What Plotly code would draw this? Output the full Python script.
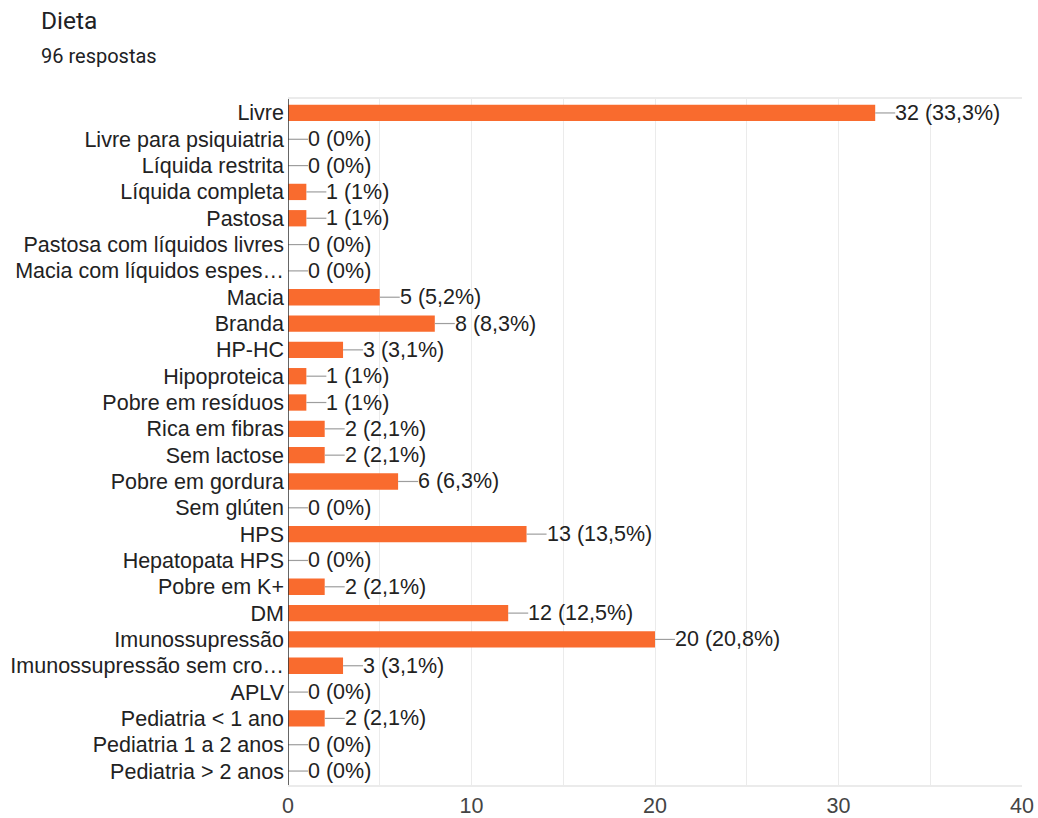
import plotly.graph_objects as go

categories = [
    "Livre", "Livre para psiquiatria", "Líquida restrita", "Líquida completa", "Pastosa",
    "Pastosa com líquidos livres", "Macia com líquidos espes…", "Macia", "Branda", "HP-HC",
    "Hipoproteica", "Pobre em resíduos", "Rica em fibras", "Sem lactose", "Pobre em gordura",
    "Sem glúten", "HPS", "Hepatopata HPS", "Pobre em K+", "DM", "Imunossupressão",
    "Imunossupressão sem cro…", "APLV", "Pediatria < 1 ano", "Pediatria 1 a 2 anos",
    "Pediatria > 2 anos",
]
counts = [32, 0, 0, 1, 1, 0, 0, 5, 8, 3, 1, 1, 2, 2, 6, 0, 13, 0, 2, 12, 20, 3, 0, 2, 0, 0]
percents = ["33,3%", "0%", "0%", "1%", "1%", "0%", "0%", "5,2%", "8,3%", "3,1%", "1%", "1%",
            "2,1%", "2,1%", "6,3%", "0%", "13,5%", "0%", "2,1%", "12,5%", "20,8%", "3,1%",
            "0%", "2,1%", "0%", "0%"]
x_ticks = [0, 10, 20, 30, 40]

BAR = "#F96B2E"
FONT = "Liberation Sans, Arial, sans-serif"
TFONT = "Roboto, Arial, sans-serif"
FS = 21.5

fig = go.Figure()
fig.add_trace(go.Bar(
    y=categories, x=counts, orientation="h",
    marker=dict(color=BAR, line=dict(width=0)),
    width=0.62, hoverinfo="skip",
))

shapes = []
annotations = []
for cat, v, p in zip(categories, counts, percents):
    shapes.append(dict(
        type="line", xref="x", yref="y", xsizemode="pixel", xanchor=v,
        x0=0, x1=20, y0=cat, y1=cat,
        line=dict(color="#9E9E9E", width=1.2), layer="above",
    ))
    annotations.append(dict(
        x=v, y=cat, xref="x", yref="y", text=f"{v} ({p})", showarrow=False,
        xanchor="left", yanchor="middle", xshift=18,
        font=dict(family=FONT, size=FS, color="#222222"),
    ))

W, H = 1038, 818
L, R, T, B = 288, 16, 99, 33
pw, ph = W - L - R, H - T - B

title_items = [("Dieta", 39, 21, 24.5, "#202124"), ("96 respostas", 39, 56, 20, "#202124")]
for txt, px, py, size, col in title_items:
    annotations.append(dict(
        text=txt, x=(px - L) / pw, y=(H - B - py) / ph, xref="paper", yref="paper",
        showarrow=False, xanchor="left", yanchor="middle",
        font=dict(family=TFONT, size=size, color=col, weight=400),
    ))

fig.update_layout(
    width=W, height=H,
    margin=dict(l=L, r=R, t=T, b=B, pad=0),
    paper_bgcolor="white", plot_bgcolor="white",
    showlegend=False,
    shapes=shapes, annotations=annotations,
    font=dict(family=FONT, size=FS, color="#222222"),
)
fig.update_xaxes(
    range=[0, 40], tickvals=x_ticks, ticktext=[str(t) for t in x_ticks],
    showgrid=True, gridcolor="#EBEBEB", gridwidth=1,
    minor=dict(dtick=5, showgrid=True, gridcolor="#EBEBEB", gridwidth=1),
    zeroline=False, showline=True, linecolor="#EBEBEB", linewidth=2, mirror=True,
    tickfont=dict(family=FONT, size=FS, color="#444444"), ticks="",
    ticklabelstandoff=0, automargin=False,
)
fig.update_yaxes(
    categoryorder="array", categoryarray=categories,
    range=[len(categories) - 0.47, -0.53],
    showgrid=False, zeroline=False, showline=False, ticks="",
    tickfont=dict(family=FONT, size=FS, color="#222222"),
    ticklabelstandoff=3, automargin=False,
)
fig.add_shape(type="line", xref="x", yref="paper", x0=0, x1=0, y0=0, y1=1,
              line=dict(color="#333333", width=1.5), layer="above")

fig.write_html("out.html")
